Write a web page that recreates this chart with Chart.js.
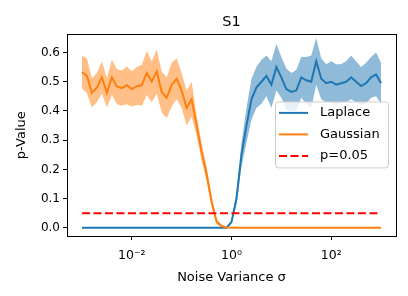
<!DOCTYPE html>
<html>
<head>
<meta charset="utf-8">
<script src="https://cdn.jsdelivr.net/npm/chart.js@4.4.0/dist/chart.umd.min.js"></script>
<style>
  html, body { margin: 0; padding: 0; background: #fff; }
  #wrap { width: 408px; height: 296px; }
</style>
</head>
<body>
<div id="wrap"><canvas id="chart" width="408" height="296"></canvas></div>
<script>
// ======= DATA =======
// sigma sampled on a log grid, 10^-3 .. 10^3, 10 samples per decade
const nPoints = 61;
const sigma = Array.from({ length: nPoints }, (_, i) => Math.pow(10, -3 + 6 * i / (nPoints - 1)));

const laplaceMean = [
  0, 0, 0, 0, 0, 0, 0, 0, 0, 0,
  0, 0, 0, 0, 0, 0, 0, 0, 0, 0,
  0, 0, 0, 0, 0, 0, 0, 0, 0, 0,
  0.02, 0.10, 0.25, 0.35, 0.44, 0.48, 0.50, 0.52, 0.49, 0.55,
  0.515, 0.475, 0.465, 0.47, 0.515, 0.505, 0.50, 0.57, 0.51, 0.495,
  0.50, 0.49, 0.495, 0.50, 0.515, 0.50, 0.485, 0.495, 0.515, 0.525,
  0.495
];
const laplaceStd = [
  0, 0, 0, 0, 0, 0, 0, 0, 0, 0,
  0, 0, 0, 0, 0, 0, 0, 0, 0, 0,
  0, 0, 0, 0, 0, 0, 0, 0, 0, 0,
  0.005, 0.02, 0.04, 0.06, 0.07, 0.07, 0.075, 0.07, 0.08, 0.08,
  0.07, 0.07, 0.065, 0.07, 0.07, 0.08, 0.09, 0.08, 0.07, 0.065,
  0.07, 0.07, 0.065, 0.07, 0.075, 0.07, 0.065, 0.07, 0.07, 0.075,
  0.07
];
const gaussMean = [
  0.533, 0.52, 0.462, 0.48, 0.515, 0.462, 0.515, 0.484, 0.478, 0.488,
  0.475, 0.485, 0.488, 0.53, 0.50, 0.535, 0.465, 0.445, 0.49, 0.51,
  0.47, 0.41, 0.44, 0.35, 0.26, 0.185, 0.09, 0.022, 0.006, 0.001,
  0, 0, 0, 0, 0, 0, 0, 0, 0, 0,
  0, 0, 0, 0, 0, 0, 0, 0, 0, 0,
  0, 0, 0, 0, 0, 0, 0, 0, 0, 0,
  0
];
const gaussStd = [
  0.055, 0.06, 0.05, 0.05, 0.055, 0.05, 0.06, 0.06, 0.06, 0.065,
  0.06, 0.065, 0.07, 0.075, 0.07, 0.075, 0.07, 0.07, 0.075, 0.07,
  0.06, 0.06, 0.06, 0.035, 0.03, 0.025, 0.02, 0.01, 0.004, 0.001,
  0, 0, 0, 0, 0, 0, 0, 0, 0, 0,
  0, 0, 0, 0, 0, 0, 0, 0, 0, 0,
  0, 0, 0, 0, 0, 0, 0, 0, 0, 0,
  0
];
const threshold = 0.05;
const yTicks = [0, 0.1, 0.2, 0.3, 0.4, 0.5, 0.6];
const xTicks = [1e-2, 1e0, 1e2];
const xTickLabels = ["10\u207B\u00B2", "10\u2070", "10\u00B2"];

// ======= HELPERS =======
const pts = (ys) => sigma.map((x, i) => ({ x, y: ys[i] }));
const shifted = (m, s, k) => m.map((v, i) => v + k * s[i]);

const BLUE = "#1f77b4";
const ORANGE = "#ff7f0e";

// box round the plot like matplotlib's spines
const framePlugin = {
  id: "frame",
  afterDraw(chart) {
    const { ctx, chartArea: a } = chart;
    ctx.save();
    ctx.strokeStyle = "#000";
    ctx.lineWidth = 1;
    ctx.strokeRect(Math.round(a.left) + 0.5, Math.round(a.top) + 0.5,
      Math.round(a.right - a.left), Math.round(a.bottom - a.top));
    ctx.restore();
  }
};

// legend drawn inside the axes, right side
const insideLegend = {
  id: "insideLegend",
  afterDraw(chart) {
    const { ctx, chartArea: a } = chart;
    const items = chart.data.datasets.filter(d => d.inLegend);
    const w = 113, rowH = 21.5, h = 23 + rowH * (items.length - 1);
    const x0 = a.right - 121, y0 = a.top + 67;
    ctx.save();
    ctx.fillStyle = "rgba(255,255,255,0.8)";
    ctx.strokeStyle = "#cccccc";
    ctx.lineWidth = 1;
    ctx.beginPath();
    ctx.roundRect(x0 + 0.5, y0 + 0.5, w, h, 3);
    ctx.fill();
    ctx.stroke();
    ctx.font = "13px 'DejaVu Sans', sans-serif";
    ctx.textBaseline = "middle";
    items.forEach((d, i) => {
      const y = y0 + 11.5 + i * rowH;
      ctx.strokeStyle = d.borderColor;
      ctx.lineWidth = 2;
      ctx.setLineDash(d.borderDash || []);
      ctx.beginPath();
      ctx.moveTo(x0 + 4, y);
      ctx.lineTo(x0 + 33, y);
      ctx.stroke();
      ctx.setLineDash([]);
      ctx.fillStyle = "#000";
      ctx.fillText(d.label, x0 + 45, y);
    });
    ctx.restore();
  }
};

Chart.defaults.font.family = "'DejaVu Sans', sans-serif";
Chart.defaults.font.size = 12;
Chart.defaults.color = "#000";

const band = (label, ys, color, fill, order) => ({
  label, data: pts(ys), borderWidth: 0, pointRadius: 0,
  backgroundColor: color, fill, order
});

new Chart(document.getElementById("chart"), {
  type: "line",
  data: {
    datasets: [
      band("", shifted(laplaceMean, laplaceStd, -1), "rgba(0,0,0,0)", false, 6),
      band("", shifted(laplaceMean, laplaceStd, 1), "rgba(31,119,180,0.5)", 0, 5),
      band("", shifted(gaussMean, gaussStd, -1), "rgba(0,0,0,0)", false, 4),
      band("", shifted(gaussMean, gaussStd, 1), "rgba(255,127,14,0.5)", 2, 3),
      { label: "Laplace", inLegend: true, data: pts(laplaceMean), borderColor: BLUE,
        borderWidth: 2, pointRadius: 0, fill: false, order: 2 },
      { label: "Gaussian", inLegend: true, data: pts(gaussMean), borderColor: ORANGE,
        borderWidth: 2, pointRadius: 0, fill: false, order: 1 },
      { label: "p=0.05", inLegend: true,
        data: [{ x: sigma[0], y: threshold }, { x: sigma[nPoints - 1], y: threshold }],
        borderColor: "#ff0000", borderDash: [8, 3.5], borderWidth: 2,
        pointRadius: 0, fill: false, order: 0 }
    ]
  },
  options: {
    responsive: false,
    animation: false,
    layout: { padding: { left: 0, right: 12, top: 0, bottom: 0 } },
    plugins: {
      legend: { display: false },
      tooltip: { enabled: false },
      title: {
        display: true, text: "S1", fullSize: false,
        font: { size: 14.5, weight: "normal" },
        padding: { top: 14, bottom: 3 }
      }
    },
    scales: {
      x: {
        type: "logarithmic",
        min: Math.pow(10, -3.3), max: Math.pow(10, 3.3),
        afterBuildTicks: s => { s.ticks = xTicks.map(v => ({ value: v, major: true })); },
        afterFit: s => { s.height = 60; },
        ticks: {
          autoSkip: false, maxRotation: 0, padding: 8,
          font: { size: 12.5 },
          callback: v => xTickLabels[xTicks.indexOf(v)] ?? ""
        },
        grid: { drawOnChartArea: false, drawTicks: true, tickLength: 4, color: "#000" },
        border: { display: true, color: "#000" },
        title: { display: true, text: "Noise Variance \u03C3", font: { size: 13 },
          padding: { top: 0, bottom: 11 } }
      },
      y: {
        min: -0.028, max: 0.662,
        afterBuildTicks: s => { s.ticks = yTicks.map(v => ({ value: v })); },
        afterFit: s => { s.width = 67; },
        ticks: { padding: 3, font: { size: 12 }, callback: v => v.toFixed(1) },
        grid: { drawOnChartArea: false, drawTicks: true, tickLength: 4, color: "#000" },
        border: { display: true, color: "#000" },
        title: { display: true, text: "p-Value", font: { size: 13 },
          padding: { top: 14, bottom: 0 } }
      }
    }
  },
  plugins: [framePlugin, insideLegend]
});
</script>
</body>
</html>
